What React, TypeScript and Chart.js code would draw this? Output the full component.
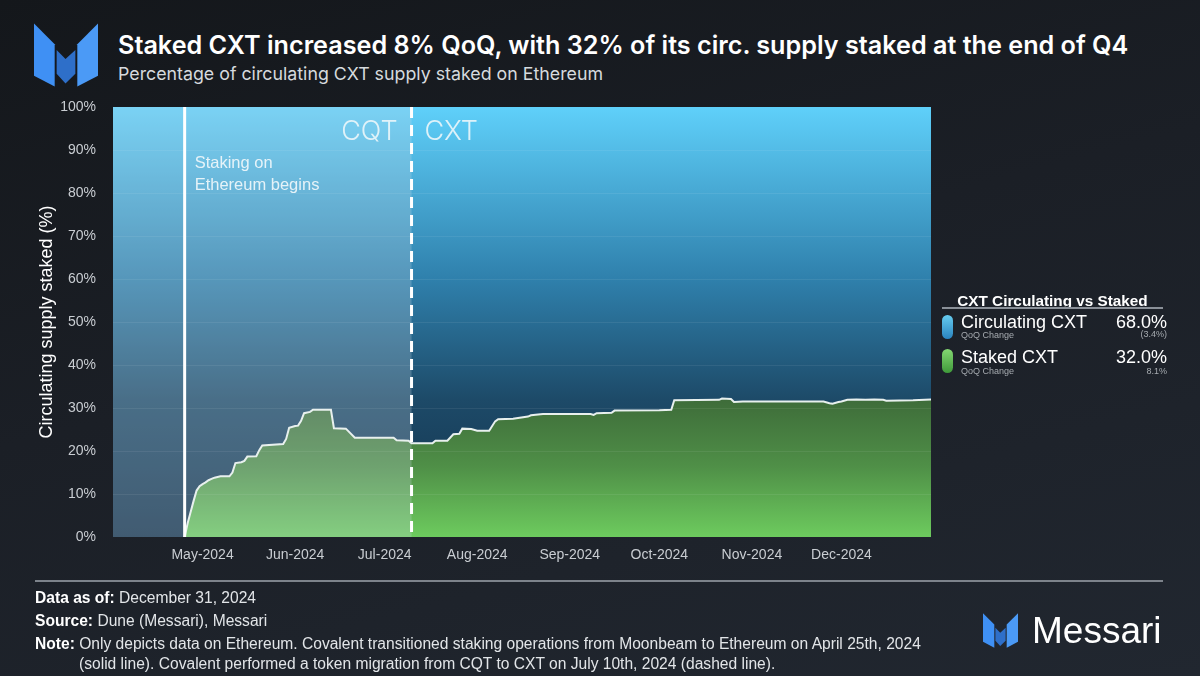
import React, { useEffect, useRef } from "react";
import { Chart, registerables } from "chart.js";

Chart.register(...registerables);

// ---------- data ----------
const stakedDates = [
  "2024-04-25", "2024-04-26", "2024-04-27", "2024-04-28", "2024-04-29", "2024-04-30",
  "2024-05-01", "2024-05-02", "2024-05-03", "2024-05-04", "2024-05-05", "2024-05-07",
  "2024-05-10", "2024-05-11", "2024-05-12", "2024-05-14", "2024-05-15", "2024-05-16",
  "2024-05-19", "2024-05-20", "2024-05-21", "2024-05-28", "2024-05-29", "2024-05-30",
  "2024-06-01", "2024-06-02", "2024-06-03", "2024-06-04", "2024-06-06", "2024-06-07",
  "2024-06-13", "2024-06-14", "2024-06-18", "2024-06-21", "2024-07-04", "2024-07-05",
  "2024-07-09", "2024-07-10", "2024-07-17", "2024-07-18", "2024-07-22", "2024-07-24",
  "2024-07-26", "2024-07-27", "2024-07-30", "2024-08-01", "2024-08-05", "2024-08-07",
  "2024-08-08", "2024-08-13", "2024-08-18", "2024-08-19", "2024-08-23", "2024-09-08",
  "2024-09-09", "2024-09-10", "2024-09-15", "2024-09-16", "2024-10-01", "2024-10-05",
  "2024-10-06", "2024-10-21", "2024-10-22", "2024-10-25", "2024-10-26", "2024-10-29",
  "2024-11-25", "2024-11-27", "2024-11-28", "2024-11-30", "2024-12-01", "2024-12-03",
  "2024-12-06", "2024-12-09", "2024-12-12", "2024-12-15", "2024-12-16", "2024-12-25",
  "2024-12-31",
];
const stakedValues = [
  0, 3.2, 5.8, 8.4, 10.8, 11.8,
  12.3, 12.7, 13.2, 13.5, 13.8, 14.1,
  14.1, 15.0, 17.2, 17.4, 17.7, 18.7,
  18.8, 20.2, 21.3, 21.6, 22.8, 25.4,
  25.8, 25.9, 27.0, 28.8, 29.1, 29.6,
  29.6, 25.3, 25.2, 23.1, 23.1, 22.5,
  22.4, 21.8, 21.8, 22.4, 22.4, 23.9,
  24.0, 25.2, 25.1, 24.7, 24.7, 26.9,
  27.4, 27.5, 28.0, 28.3, 28.6, 28.6,
  28.4, 28.8, 28.9, 29.4, 29.5, 29.6,
  31.8, 31.9, 32.2, 32.1, 31.4, 31.5,
  31.5, 31.1, 31.0, 31.4, 31.5, 31.9,
  32.0, 31.9, 32.0, 31.9, 31.7, 31.8,
  32.0,
];
const circulatingDates = ["2024-04-01", "2024-12-31"];
const circulatingValues = [100, 100];

const axisStart = "2024-04-01";
const axisEnd = "2024-12-31";
const monthTickDates = [
  "2024-05-01", "2024-06-01", "2024-07-01", "2024-08-01",
  "2024-09-01", "2024-10-01", "2024-11-01", "2024-12-01",
];
const monthTickLabels = [
  "May-2024", "Jun-2024", "Jul-2024", "Aug-2024",
  "Sep-2024", "Oct-2024", "Nov-2024", "Dec-2024",
];
const yTickValues = [0, 10, 20, 30, 40, 50, 60, 70, 80, 90, 100];

const stakingStartDate = "2024-04-25";
const migrationDate = "2024-07-10";

const legendNames = ["Circulating CXT", "Staked CXT"];
const legendShares = ["68.0%", "32.0%"];
const legendQoQ = ["(3.4%)", "8.1%"];

// ---------- helpers ----------
const dayOf = (s: string) => {
  const [y, m, d] = s.split("-").map(Number);
  const [by, bm, bd] = axisStart.split("-").map(Number);
  return (Date.UTC(y, m - 1, d) - Date.UTC(by, bm - 1, bd)) / 86400000;
};

const SANS = "'Liberation Sans', Arial, Helvetica, sans-serif";
const INTER = "Inter, 'Liberation Sans', Arial, sans-serif";

const Logo = ({ left, top, size }: { left: number; top: number; size: number }) => (
  <svg
    width={size}
    height={size}
    viewBox="0 0 65 64"
    style={{ position: "absolute", left, top }}
  >
    <polygon points="0,0 21,21 21,64 0,53" fill="#3f90f4" />
    <polygon points="23,27 32,36 42,27 42,51 32,61 23,51" fill="#2e6fc9" />
    <polygon points="44,21 65,0 65,53 44,64" fill="#4b9af6" />
  </svg>
);

const annotPlugin = {
  id: "annot",
  beforeDatasetDraw(chart: any, args: any) {
    if (args.index !== 0) return;
    const { ctx, chartArea } = chart;
    const x = chart.scales.x;
    const y = chart.scales.y;
    const xm = x.getPixelForValue(dayOf(migrationDate));
    ctx.save();
    // washed-out CQT era
    ctx.fillStyle = "rgba(200,218,228,0.26)";
    ctx.fillRect(chartArea.left, chartArea.top, xm - chartArea.left, chartArea.bottom - chartArea.top);
    // faint grid
    ctx.strokeStyle = "rgba(255,255,255,0.07)";
    ctx.lineWidth = 1;
    yTickValues.forEach((v) => {
      if (v === 0 || v === 100) return;
      const py = Math.round(y.getPixelForValue(v)) + 0.5;
      ctx.beginPath();
      ctx.moveTo(chartArea.left, py);
      ctx.lineTo(chartArea.right, py);
      ctx.stroke();
    });
    ctx.restore();
  },
  afterDatasetsDraw(chart: any) {
    const { ctx, chartArea } = chart;
    const x = chart.scales.x;
    const xs = x.getPixelForValue(dayOf(stakingStartDate));
    const xm = x.getPixelForValue(dayOf(migrationDate));
    ctx.save();
    ctx.strokeStyle = "#ffffff";
    ctx.lineWidth = 3;
    ctx.beginPath();
    ctx.moveTo(xs, chartArea.top);
    ctx.lineTo(xs, chartArea.bottom);
    ctx.stroke();
    ctx.setLineDash([11, 7]);
    ctx.beginPath();
    ctx.moveTo(xm, chartArea.top);
    ctx.lineTo(xm, chartArea.bottom);
    ctx.stroke();
    ctx.setLineDash([]);

    ctx.fillStyle = "rgba(236,246,250,0.95)";
    ctx.font = `16.5px ${SANS}`;
    ctx.textBaseline = "middle";
    ctx.textAlign = "left";
    ctx.fillText("Staking on", xs + 10, 163);
    ctx.fillText("Ethereum begins", xs + 10, 185);

    ctx.font = `300 27px ${INTER}`;
    ctx.fillStyle = "rgba(236,246,250,0.9)";
    ctx.textAlign = "right";
    ctx.fillText("CQT", xm - 14, 132);
    ctx.textAlign = "left";
    ctx.fillText("CXT", xm + 13, 132);

    // y axis title
    ctx.translate(47, (chartArea.top + chartArea.bottom) / 2);
    ctx.rotate(-Math.PI / 2);
    ctx.textAlign = "center";
    ctx.fillStyle = "#ffffff";
    ctx.font = `18px ${SANS}`;
    ctx.fillText("Circulating supply staked (%)", 0, 0);
    ctx.restore();
  },
};

function ChartCanvas() {
  const ref = useRef<HTMLCanvasElement | null>(null);
  useEffect(() => {
    if (!ref.current) return;
    const staked = stakedDates.map((d, i) => ({ x: dayOf(d), y: stakedValues[i] }));
    const circ = circulatingDates.map((d, i) => ({ x: dayOf(d), y: circulatingValues[i] }));
    const tickDays = monthTickDates.map(dayOf);

    const blueFill = (c: any) => {
      const { chart } = c;
      const area = chart.chartArea;
      if (!area) return "#2a6f98";
      const g = chart.ctx.createLinearGradient(0, area.top, 0, area.bottom);
      g.addColorStop(0, "#5fd0fa");
      g.addColorStop(0.4, "#2f80ac");
      g.addColorStop(0.68, "#1d4a68");
      g.addColorStop(1, "#12304a");
      return g;
    };
    const greenFill = (c: any) => {
      const { chart } = c;
      const area = chart.chartArea;
      if (!area) return "#4f9148";
      const y = chart.scales.y;
      const g = chart.ctx.createLinearGradient(0, y.getPixelForValue(33), 0, area.bottom);
      g.addColorStop(0, "#3d6a39");
      g.addColorStop(0.5, "#4f8f47");
      g.addColorStop(1, "#6dcb5e");
      return g;
    };

    const chart = new Chart(ref.current, {
      type: "line",
      data: {
        datasets: [
          {
            label: legendNames[1],
            data: staked,
            borderColor: "#e8f0ee",
            borderWidth: 2,
            pointRadius: 0,
            fill: "origin",
            backgroundColor: greenFill,
            order: 0,
            tension: 0,
          },
          {
            label: legendNames[0],
            data: circ,
            borderWidth: 0,
            borderColor: "rgba(0,0,0,0)",
            pointRadius: 0,
            fill: "origin",
            backgroundColor: blueFill,
            order: 1,
          },
        ],
      },
      options: {
        animation: false,
        responsive: false,
        events: [],
        layout: { padding: { left: 13, top: 107, right: 269, bottom: 109 } },
        scales: {
          x: {
            type: "linear",
            min: dayOf(axisStart),
            max: dayOf(axisEnd),
            afterBuildTicks: (s: any) => {
              s.ticks = tickDays.map((v) => ({ value: v }));
            },
            afterFit: (s: any) => {
              s.height = 30;
            },
            ticks: {
              autoSkip: false,
              maxRotation: 0,
              padding: 2,
              color: "#c9cdd2",
              font: { family: SANS, size: 14 },
              callback: (v: any) => {
                const i = tickDays.indexOf(Number(v));
                return i >= 0 ? monthTickLabels[i] : "";
              },
            },
            grid: { display: false },
            border: { display: false },
          },
          y: {
            min: 0,
            max: 100,
            afterBuildTicks: (s: any) => {
              s.ticks = yTickValues.map((v) => ({ value: v }));
            },
            afterFit: (s: any) => {
              s.width = 100;
            },
            ticks: {
              padding: 9,
              color: "#c9cdd2",
              font: { family: SANS, size: 14 },
              callback: (v: any) => `${v}%`,
            },
            grid: { display: false },
            border: { display: false },
          },
        },
        plugins: {
          legend: { display: false },
          tooltip: { enabled: false },
        },
      },
      plugins: [annotPlugin],
    } as any);
    return () => chart.destroy();
  }, []);
  return (
    <canvas
      ref={ref}
      width={1200}
      height={676}
      style={{ position: "absolute", left: 0, top: 0, width: 1200, height: 676 }}
    />
  );
}

export default function App() {
  const abs = (o: React.CSSProperties): React.CSSProperties => ({
    position: "absolute",
    whiteSpace: "nowrap",
    ...o,
  });
  const pill = (top: number, a: string, b: string) => (
    <div
      style={abs({
        left: 942,
        top,
        width: 11,
        height: 24,
        borderRadius: 6,
        background: `linear-gradient(180deg, ${a}, ${b})`,
      })}
    />
  );
  const foot = { fontSize: 15.6, lineHeight: "18px", color: "#e2e5e8" };
  return (
    <div
      style={{
        position: "fixed",
        left: 0,
        top: 0,
        width: 1200,
        height: 676,
        overflow: "hidden",
        background: "linear-gradient(165deg, #14171b 0%, #1b1f26 45%, #212730 100%)",
        fontFamily: SANS,
        color: "#fff",
      }}
    >
      <Logo left={34} top={23} size={64} />
      <div style={abs({ left: 118, top: 30, fontFamily: INTER, fontWeight: 600, fontSize: 25.2, lineHeight: "30px" })}>
        Staked CXT increased 8% QoQ, with 32% of its circ. supply staked at the end of Q4
      </div>
      <div style={abs({ left: 118, top: 63, fontFamily: INTER, fontSize: 17.8, lineHeight: "21px", color: "#d6dade" })}>
        Percentage of circulating CXT supply staked on Ethereum
      </div>

      <ChartCanvas />

      {/* legend */}
      <div style={abs({ left: 942, width: 221, top: 292, textAlign: "center", fontWeight: 700, fontSize: 15.3, lineHeight: "18px" })}>
        CXT Circulating vs Staked
      </div>
      <div style={abs({ left: 942, top: 307, width: 221, height: 1.5, background: "#8a9098" })} />
      {pill(315, "#66ccf0", "#2a84bf")}
      {pill(349, "#84d872", "#3f9a3a")}
      <div style={abs({ left: 961, top: 312, fontSize: 18, lineHeight: "20px" })}>{legendNames[0]}</div>
      <div style={abs({ left: 961, top: 330, fontSize: 9, lineHeight: "10px", color: "#a6abb0" })}>QoQ Change</div>
      <div style={abs({ right: 33, top: 312, fontSize: 18, lineHeight: "20px" })}>{legendShares[0]}</div>
      <div style={abs({ right: 33, top: 329, fontSize: 9, lineHeight: "10px", color: "#a6abb0" })}>{legendQoQ[0]}</div>
      <div style={abs({ left: 961, top: 347, fontSize: 18, lineHeight: "20px" })}>{legendNames[1]}</div>
      <div style={abs({ left: 961, top: 366, fontSize: 9, lineHeight: "10px", color: "#a6abb0" })}>QoQ Change</div>
      <div style={abs({ right: 33, top: 347, fontSize: 18, lineHeight: "20px" })}>{legendShares[1]}</div>
      <div style={abs({ right: 33, top: 366, fontSize: 9, lineHeight: "10px", color: "#a6abb0" })}>{legendQoQ[1]}</div>

      {/* footer */}
      <div style={abs({ left: 35, top: 580, width: 1128, height: 1.5, background: "#7d838b" })} />
      <div style={abs({ left: 35, top: 589, ...foot })}>
        <b style={{ color: "#fff" }}>Data as of:</b> December 31, 2024
      </div>
      <div style={abs({ left: 35, top: 612, ...foot })}>
        <b style={{ color: "#fff" }}>Source:</b> Dune (Messari), Messari
      </div>
      <div style={abs({ left: 35, top: 635, ...foot })}>
        <b style={{ color: "#fff" }}>Note:</b> Only depicts data on Ethereum. Covalent transitioned staking operations from Moonbeam to Ethereum on April 25th, 2024
      </div>
      <div style={abs({ left: 79, top: 655, ...foot })}>
        (solid line). Covalent performed a token migration from CQT to CXT on July 10th, 2024 (dashed line).
      </div>
      <Logo left={983} top={613} size={35} />
      <div style={abs({ left: 1032, top: 609, fontSize: 37, lineHeight: "43px", color: "#fff" })}>Messari</div>
    </div>
  );
}
